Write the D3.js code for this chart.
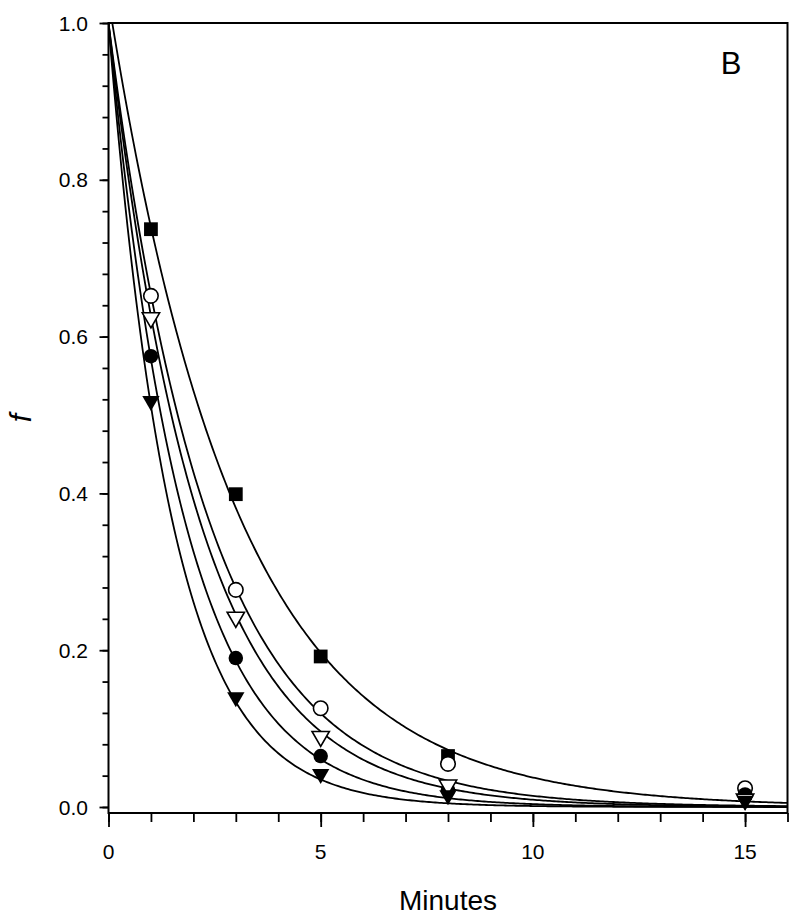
<!DOCTYPE html>
<html>
<head>
<meta charset="utf-8">
<script src="https://cdn.jsdelivr.net/npm/d3@7"></script>
<style>
  body { margin: 0; background: #fff; }
  svg { display: block; font-family: Arial, "Liberation Sans", sans-serif; }
</style>
</head>
<body>
<svg id="chart" width="800" height="924"></svg>
<script>
// sampling times (minutes)
const times = [1, 3, 5, 8, 15];

// fraction remaining, one list per series
const filledSquare   = [0.737, 0.399, 0.192, 0.065, 0.018];
const openCircle     = [0.652, 0.277, 0.126, 0.055, 0.024];
const filledCircle   = [0.575, 0.190, 0.065, 0.022, 0.016];
const openTriangle   = [0.624, 0.242, 0.090, 0.028, 0.010];
const filledTriangle = [0.518, 0.140, 0.042, 0.015, 0.008];

// single exponential fits f = A * exp(-k t)
const fitAmplitude = [1.03, 1.0, 1.0, 1.0, 1.0];
const fitRate      = [0.331, 0.425, 0.56, 0.468, 0.67];

const xMajorTicks = [0, 5, 10, 15];
const yMajorTicks = [0, 0.2, 0.4, 0.6, 0.8, 1.0];
const yTickLabels = ["0.0", "0.2", "0.4", "0.6", "0.8", "1.0"];

const series = [
  { name: "filledSquare",   values: filledSquare,   shape: "square",   fill: "#000" },
  { name: "openCircle",     values: openCircle,     shape: "circle",   fill: "#fff" },
  { name: "filledCircle",   values: filledCircle,   shape: "circle",   fill: "#000" },
  { name: "openTriangle",   values: openTriangle,   shape: "triangle", fill: "#fff" },
  { name: "filledTriangle", values: filledTriangle, shape: "triangle", fill: "#000" }
];

const svg = d3.select("#chart");
const plotL = 108.5, plotR = 787.5, plotT = 23, plotB = 813;

const x = d3.scaleLinear().domain([0, 16]).range([plotL, plotR]);
const y = d3.scaleLinear().domain([0, 1]).range([807, plotT]);

// clip for curves
svg.append("defs").append("clipPath").attr("id", "plot")
  .append("rect").attr("x", plotL).attr("y", plotT)
  .attr("width", plotR - plotL).attr("height", plotB - plotT);

// fitted curves
const tGrid = d3.range(0, 16.001, 0.05);
const line = d3.line().x(d => x(d[0])).y(d => y(d[1]));
const curves = svg.append("g").attr("clip-path", "url(#plot)");
series.forEach((s, i) => {
  const pts = tGrid.map(t => [t, fitAmplitude[i] * Math.exp(-fitRate[i] * t)]);
  curves.append("path")
    .attr("d", line(pts))
    .attr("fill", "none")
    .attr("stroke", "#000")
    .attr("stroke-width", 1.8);
});

// axes
const xMinor = d3.axisBottom(x).tickValues(d3.range(0, 17, 1)).tickSize(9).tickFormat("");
const xMajor = d3.axisBottom(x).tickValues(xMajorTicks).tickSize(14).tickFormat("");
svg.append("g").attr("transform", `translate(0,${plotB})`).call(xMinor);
svg.append("g").attr("transform", `translate(0,${plotB})`).call(xMajor);

const yMinor = d3.axisLeft(y).tickValues(d3.range(0, 1.0001, 0.04)).tickSize(6).tickFormat("");
const yMajor = d3.axisLeft(y).tickValues(yMajorTicks).tickSize(9).tickFormat("");
svg.append("g").attr("transform", `translate(${plotL},0)`).call(yMinor);
svg.append("g").attr("transform", `translate(${plotL},0)`).call(yMajor);

svg.selectAll(".domain").remove();
svg.selectAll(".tick line").attr("stroke", "#000").attr("stroke-width", 1.8);

// frame
svg.append("rect")
  .attr("x", plotL).attr("y", plotT)
  .attr("width", plotR - plotL).attr("height", plotB - plotT)
  .attr("fill", "none").attr("stroke", "#000").attr("stroke-width", 2);

// tick labels
svg.append("g").selectAll("text").data(xMajorTicks).join("text")
  .attr("x", d => x(d)).attr("y", 859)
  .attr("text-anchor", "middle")
  .attr("font-size", 21)
  .text(d => d);

svg.append("g").selectAll("text").data(yMajorTicks).join("text")
  .attr("x", 88).attr("y", d => y(d))
  .attr("dy", "0.36em")
  .attr("text-anchor", "end")
  .attr("font-size", 21)
  .text((d, i) => yTickLabels[i]);

// axis titles
svg.append("text")
  .attr("x", 448).attr("y", 910)
  .attr("text-anchor", "middle")
  .attr("font-size", 28)
  .text("Minutes");

svg.append("text")
  .attr("transform", "translate(31,418) rotate(-90)")
  .attr("text-anchor", "middle")
  .attr("font-size", 30)
  .attr("font-style", "italic")
  .text("f");

svg.append("text")
  .attr("x", 731).attr("y", 74)
  .attr("text-anchor", "middle")
  .attr("font-size", 31)
  .text("B");

// markers
const symbolType = { square: d3.symbolSquare, circle: d3.symbolCircle, triangle: d3.symbolTriangle };
const symbolSize = { square: 190, circle: 165, triangle: 130 };
series.forEach(s => {
  const sym = d3.symbol().type(symbolType[s.shape]).size(symbolSize[s.shape]);
  svg.append("g").selectAll("path").data(times).join("path")
    .attr("d", sym)
    .attr("transform", (t, j) => `translate(${x(t)},${y(s.values[j])})` + (s.shape === "triangle" ? " rotate(180)" : ""))
    .attr("fill", s.fill)
    .attr("stroke", "#000")
    .attr("stroke-width", s.fill === "#fff" ? 1.6 : 0);
});
</script>
</body>
</html>
